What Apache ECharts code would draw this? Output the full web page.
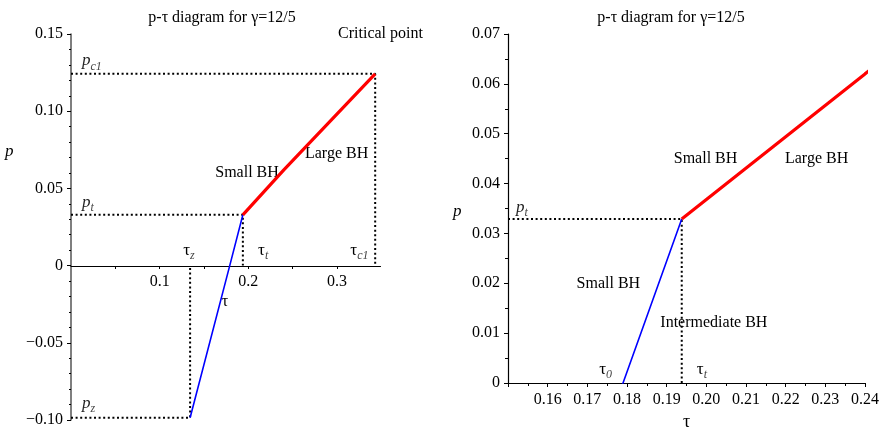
<!DOCTYPE html>
<html><head><meta charset="utf-8">
<script src="https://cdn.jsdelivr.net/npm/echarts@6/dist/echarts.min.js"></script>
<style>html,body{margin:0;padding:0;background:#fff}#c{width:882px;height:431px}</style>
</head><body><div id="c"></div>
<script>
const titleText = 'p-\u03c4 diagram for \u03b3=12/5';
// Small BH branch (blue) : tau, p
const smallTau = [0.1343, 0.1790, 0.1938];
const smallP   = [-0.0985, 0.0, 0.0329];
// Large BH branch (red) : tau, p
const largeTau = [0.1938, 0.2400, 0.3430];
const largeP   = [0.0329, 0.0620, 0.1242];
// special points
const tauZ = 0.1343, pZ = -0.0985;
const tauT = 0.1938, pT = 0.0329;
const tauC1 = 0.3430, pC1 = 0.1242;
// ticks
const leftXTicks  = [0.05, 0.1, 0.15, 0.2, 0.25, 0.3];
const leftXLabels = [0.1, 0.2, 0.3];
const leftYRange  = [-0.10, 0.15];
const rightXRange = [0.15, 0.24];
const rightYRange = [0.00, 0.07];

const FONT = 'Liberation Serif';
const zip = (a, b) => a.map((v, i) => [v, b[i]]);
const fmt2 = v => Math.abs(v) < 1e-9 ? '0' : (v < 0 ? '\u2212' : '') + Math.abs(v).toFixed(2);

const rich = {
  n: {fontFamily: FONT, fontSize: 17, color: '#000', textBorderWidth: 0},
  i: {fontFamily: FONT, fontSize: 17, fontStyle: 'italic', color: '#222', textBorderWidth: 0},
  s: {fontFamily: FONT, fontSize: 12, fontStyle: 'italic', color: '#444', textBorderWidth: 0, padding: [11, 0, 0, 0]}
};
function ann(x, y, text, align) {
  return {value: [x, y], label: {formatter: text, align: align || 'center'}};
}
const leftAnn = [
  ann(0.349, 0.1501, 'Critical point'),
  ann(0.0124, 0.1326, '{i|p}{s|c1}', 'left'),
  ann(0.1985, 0.0602, 'Small BH'),
  ann(0.2995, 0.0724, 'Large BH'),
  ann(0.0124, 0.0408, '{i|p}{s|t}', 'left'),
  ann(0.1265, 0.0100, '{n|\u03c4}{s|z}', 'left'),
  ann(0.2110, 0.0100, '{n|\u03c4}{s|t}', 'left'),
  ann(0.3150, 0.0100, '{n|\u03c4}{s|c1}', 'left'),
  ann(0.1737, -0.0233, '\u03c4'),
  ann(0.0124, -0.0893, '{i|p}{s|z}', 'left')
];
const rightAnn = [
  ann(0.1520, 0.0352, '{i|p}{s|t}', 'left'),
  ann(0.1998, 0.0449, 'Small BH'),
  ann(0.2278, 0.0449, 'Large BH'),
  ann(0.1753, 0.0198, 'Small BH'),
  ann(0.2019, 0.0120, 'Intermediate BH'),
  ann(0.1730, 0.0027, '{n|\u03c4}{s|0}', 'left'),
  ann(0.1976, 0.0027, '{n|\u03c4}{s|t}', 'left')
];

const axisText = {fontFamily: FONT, fontSize: 16, color: '#000'};
const dotted = {color: '#000', width: 2, type: [2, 2.6]};
const annLabel = {show: true, position: 'inside', fontFamily: FONT, fontSize: 16, color: '#000',
                  textBorderWidth: 0, textBorderColor: 'transparent', rich: rich};

const option = {
  animation: false,
  backgroundColor: '#fff',
  title: [
    {text: titleText, left: 217, top: 5, textAlign: 'center', textStyle: {fontFamily: FONT, fontSize: 16, fontWeight: 'normal', color: '#000'}},
    {text: titleText, left: 666, top: 5, textAlign: 'center', textStyle: {fontFamily: FONT, fontSize: 16, fontWeight: 'normal', color: '#000'}}
  ],
  graphic: [
    {type: 'text', left: 5, top: 143, style: {text: 'p', fontFamily: FONT, fontSize: 17, fontStyle: 'italic', fill: '#000'}},
    {type: 'text', left: 453, top: 203, style: {text: 'p', fontFamily: FONT, fontSize: 17, fontStyle: 'italic', fill: '#000'}}
  ],
  grid: [
    {left: 71, top: 34, width: 309.5, height: 386, containLabel: false, outerBoundsMode: 'none'},
    {left: 508, top: 34, width: 357, height: 349, containLabel: false, outerBoundsMode: 'none'}
  ],
  xAxis: [
    {gridIndex: 0, type: 'value', min: 0, max: 0.349, position: 'bottom', offset: -154,
     axisLine: {onZero: false, lineStyle: {color: '#000', width: 1.2}},
     axisTick: {show: true, customValues: leftXTicks, length: 3, lineStyle: {color: '#000'}},
     axisLabel: {customValues: leftXLabels, formatter: v => v.toFixed(1), margin: 8, ...axisText},
     splitLine: {show: false}},
    {gridIndex: 1, type: 'value', min: rightXRange[0], max: rightXRange[1], interval: 0.01,
     name: '\u03c4', nameLocation: 'middle', nameGap: 29, nameTextStyle: {fontFamily: FONT, fontSize: 18, color: '#000'},
     axisLine: {onZero: false, lineStyle: {color: '#000', width: 1.2}},
     axisTick: {length: 4, lineStyle: {color: '#000'}},
     minorTick: {show: true, splitNumber: 2, length: 3, lineStyle: {color: '#000'}},
     axisLabel: {formatter: v => (v < 0.155 ? '' : v.toFixed(2)), margin: 9, showMinLabel: false, ...axisText},
     splitLine: {show: false}, minorSplitLine: {show: false}}
  ],
  yAxis: [
    {gridIndex: 0, type: 'value', min: leftYRange[0], max: leftYRange[1], interval: 0.05,
     axisLine: {show: true, onZero: false, lineStyle: {color: '#555', width: 1.5}},
     axisTick: {length: 4, lineStyle: {color: '#000'}},
     minorTick: {show: true, splitNumber: 5, length: 2, lineStyle: {color: '#000'}},
     axisLabel: {formatter: fmt2, margin: 8, ...axisText},
     splitLine: {show: false}, minorSplitLine: {show: false}},
    {gridIndex: 1, type: 'value', min: rightYRange[0], max: rightYRange[1], interval: 0.01,
     axisLine: {show: true, onZero: false, lineStyle: {color: '#000', width: 1.2}},
     axisTick: {length: 4, lineStyle: {color: '#000'}},
     minorTick: {show: true, splitNumber: 2, length: 3, lineStyle: {color: '#000'}},
     axisLabel: {formatter: fmt2, margin: 8, ...axisText},
     splitLine: {show: false}, minorSplitLine: {show: false}}
  ],
  series: [
    // left guides
    {type: 'line', xAxisIndex: 0, yAxisIndex: 0, symbol: 'none', lineStyle: dotted, data: [[0, pC1], [tauC1, pC1], [tauC1, 0]]},
    {type: 'line', xAxisIndex: 0, yAxisIndex: 0, symbol: 'none', lineStyle: dotted, data: [[0, pT], [tauT, pT], [tauT, 0]]},
    {type: 'line', xAxisIndex: 0, yAxisIndex: 0, symbol: 'none', lineStyle: dotted, data: [[0, pZ], [tauZ, pZ], [tauZ, 0]]},
    {type: 'line', xAxisIndex: 0, yAxisIndex: 0, symbol: 'none', lineStyle: {color: '#0000ff', width: 1.6}, data: zip(smallTau, smallP)},
    {type: 'line', xAxisIndex: 0, yAxisIndex: 0, symbol: 'none', lineStyle: {color: '#ff0000', width: 3.2}, data: zip(largeTau, largeP)},
    {type: 'scatter', xAxisIndex: 0, yAxisIndex: 0, symbolSize: 0, clip: false, silent: true,
     itemStyle: {color: '#000', opacity: 1}, label: annLabel, data: leftAnn},
    // right guides
    {type: 'line', xAxisIndex: 1, yAxisIndex: 1, symbol: 'none', lineStyle: dotted, data: [[rightXRange[0], pT], [tauT, pT], [tauT, 0]]},
    {type: 'line', xAxisIndex: 1, yAxisIndex: 1, symbol: 'none', clip: true, lineStyle: {color: '#0000ff', width: 1.6}, data: zip(smallTau, smallP)},
    {type: 'line', xAxisIndex: 1, yAxisIndex: 1, symbol: 'none', clip: true, lineStyle: {color: '#ff0000', width: 3.2}, data: zip(largeTau, largeP)},
    {type: 'scatter', xAxisIndex: 1, yAxisIndex: 1, symbolSize: 0, clip: false, silent: true,
     itemStyle: {color: '#000', opacity: 1}, label: annLabel, data: rightAnn}
  ]
};
echarts.init(document.getElementById('c'), null, {renderer: 'canvas'}).setOption(option);
</script></body></html>
